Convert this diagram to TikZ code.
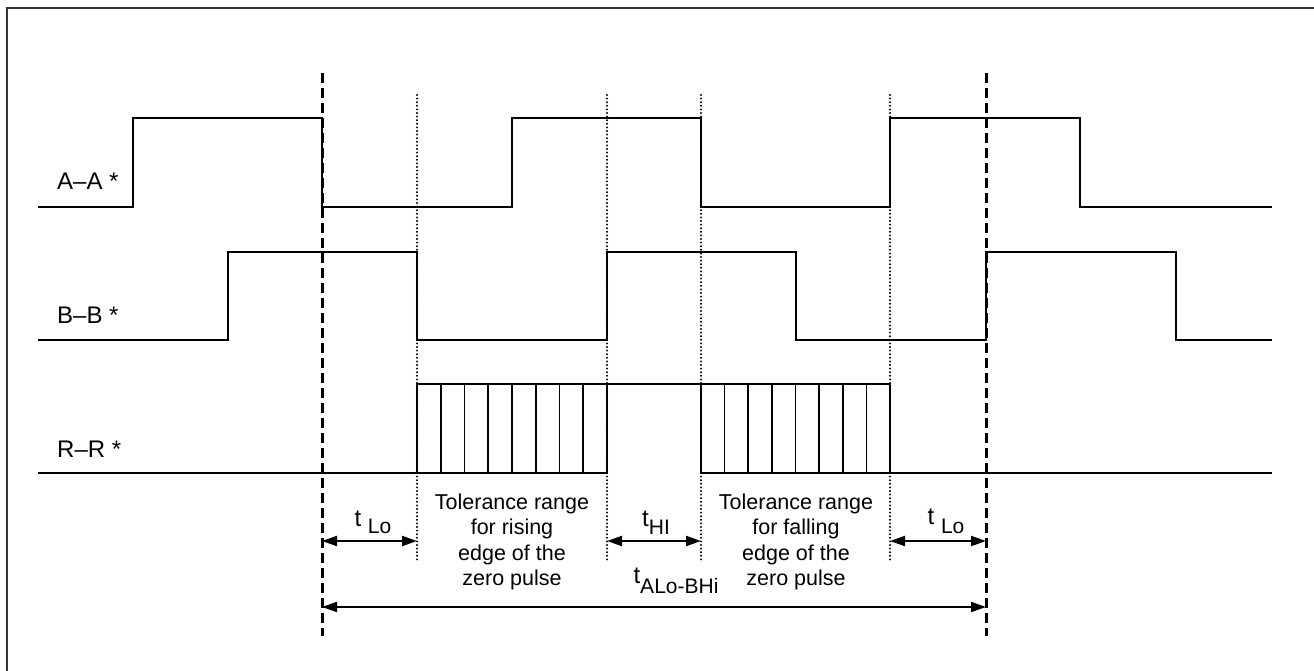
\documentclass[tikz,border=0pt]{standalone}
\usepackage{fontspec}
\setmainfont{Liberation Sans}
\usetikzlibrary{arrows.meta}
\begin{document}
\begin{tikzpicture}[x=1pt,y=-1pt,
  sig/.style={line width=2pt, line join=miter},
  hatch/.style={line width=1.7pt},
  dashline/.style={line width=3pt, dash pattern=on 10pt off 5pt},
  dotline/.style={line width=2.2pt, line cap=round, dash pattern=on 0pt off 3.6pt},
  dimarrow/.style={line width=2pt, {Triangle[length=15pt,width=10pt]}-{Triangle[length=15pt,width=10pt]}},
  siglabel/.style={font=\fontsize{24}{28}\selectfont, inner sep=0pt},
  txt/.style={font=\fontsize{21.5}{25.6}\selectfont, inner sep=0pt, align=center},
  tlabel/.style={font=\fontsize{24}{28}\selectfont, inner sep=0pt, anchor=base}
]
\newcommand{\tsub}[2]{\raisebox{#1}{\fontsize{21}{25}\selectfont #2}}
\useasboundingbox (0,0) rectangle (1314,671);
\fill[white] (0,0) rectangle (1314,671);
% frame
\draw[line width=1.6pt, black!80] (7,671) -- (7,8) -- (1314,8);

% signals
\draw[sig] (38,207) -- (133,207) -- (133,118) -- (322,118) -- (322,207) -- (512,207) -- (512,118) -- (701,118) -- (701,207) -- (890,207) -- (890,118) -- (1080,118) -- (1080,207) -- (1272,207);
\draw[sig] (38,340) -- (228,340) -- (228,252) -- (417,252) -- (417,340) -- (607,340) -- (607,252) -- (796,252) -- (796,340) -- (986,340) -- (986,252) -- (1176,252) -- (1176,340) -- (1272,340);
\draw[sig] (38,473) -- (417,473) -- (417,384) -- (890,384) -- (890,473) -- (1272,473);
\draw[sig] (417,473) -- (607,473) -- (607,384);
\draw[sig] (701,384) -- (701,473) -- (890,473);
\foreach \i in {1,...,7} {
  \draw[hatch] (417+\i*23.75,384) -- ++(0,89);
  \draw[hatch] (701+\i*23.625,384) -- ++(0,89);
}

% signal labels
\node[siglabel, anchor=base west] (la) at (57,190) {A–A *};
\node[siglabel, anchor=base west] (lb) at (57,323) {B–B *};
\node[siglabel, anchor=base west] (lr) at (57,457) {R–R *};

% dashed and dotted guide lines
\coordinate (d1t) at (322,73);  \coordinate (d1b) at (322,636);
\coordinate (d2t) at (986,73);  \coordinate (d2b) at (986,636);
\draw[dashline] (d1t) -- (d1b);
\draw[dashline] (d2t) -- (d2b);
\foreach \x/\n in {417/a,607/b,701/c,890/d} {
  \coordinate (p\n t) at (\x,95); \coordinate (p\n b) at (\x,561);
  \draw[dotline] (p\n t) -- (p\n b);
}

% arrow end points
\coordinate (a1) at (322,541); \coordinate (a2) at (417,541);
\coordinate (a3) at (607,541); \coordinate (a4) at (701,541);
\coordinate (a5) at (890,541); \coordinate (a6) at (986,541);
\coordinate (b1) at (322,607); \coordinate (b2) at (986,607);
\draw[dimarrow] (a1) -- (a2);
\draw[dimarrow] (a3) -- (a4);
\draw[dimarrow] (a5) -- (a6);
\draw[dimarrow] (b1) -- (b2);

% time labels
\node[tlabel] (tlo1) at (373,526) {t \tsub{-7pt}{Lo}};
\node[tlabel] (thi) at (656,526) {t\tsub{-8pt}{HI}};
\node[tlabel] (tlo2) at (946,524) {t \tsub{-9pt}{Lo}};
\node[tlabel] (talo) at (676,583) {t\tsub{-10pt}{ALo-BHi}};

% tolerance texts
\node[txt] (tol1) at (512,542) {Tolerance range\\for rising\\edge of the\\zero pulse};
\node[txt] (tol2) at (796,542) {Tolerance range\\for falling\\edge of the\\zero pulse};
\end{tikzpicture}
\end{document}
